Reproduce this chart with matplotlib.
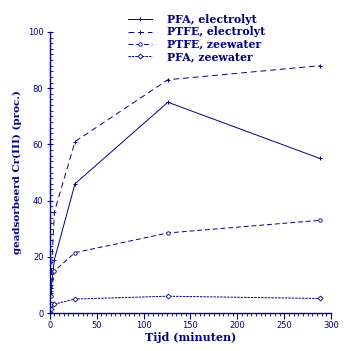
import matplotlib
matplotlib.use("Agg")
import matplotlib.pyplot as plt
from matplotlib.ticker import MultipleLocator

# Adsorption of Cr(III) versus time for two tube materials in two media
tijd = [0, 1, 5, 27, 126, 288]
pfa_electrolyt = [0, 7, 19, 46, 75, 55]
ptfe_electrolyt = [0, 9, 36, 61, 83, 88]
ptfe_zeewater = [0, 6, 15, 21.5, 28.5, 33]
pfa_zeewater = [0, 1.5, 3.2, 5, 6, 5.2]

navy = "#000080"

fig = plt.figure(figsize=(3.5, 3.51), dpi=100)
ax = fig.add_axes([0.142, 0.108, 0.804, 0.801])

ax.plot(tijd, pfa_electrolyt, color=navy, lw=0.7, ls="-",
        marker="+", ms=3, mew=0.7, label="PFA, electrolyt")
ax.plot(tijd, ptfe_electrolyt, color=navy, lw=0.7, ls=(0, (6, 4)),
        marker="+", ms=3, mew=0.7, label="PTFE, electrolyt")
ax.plot(tijd, ptfe_zeewater, color=navy, lw=0.7, ls=(0, (5, 3)),
        marker="o", ms=2.5, mew=0.6, mfc="white", label="PTFE, zeewater")
ax.plot(tijd, pfa_zeewater, color=navy, lw=0.7, ls=(0, (2.5, 1)),
        marker="D", ms=2.5, mew=0.6, mfc="white", label="PFA, zeewater")

ax.set_xlim(0, 300)
ax.set_ylim(0, 100)
ax.xaxis.set_major_locator(MultipleLocator(50))
ax.xaxis.set_minor_locator(MultipleLocator(5))
ax.yaxis.set_major_locator(MultipleLocator(20))
ax.yaxis.set_minor_locator(MultipleLocator(2))

for side in ("top", "right"):
    ax.spines[side].set_visible(False)
for side in ("left", "bottom"):
    ax.spines[side].set_color(navy)
    ax.spines[side].set_linewidth(1.0)

ax.tick_params(axis="x", which="major", direction="out", length=4, color=navy,
               labelcolor=navy, labelsize=6, pad=2)
ax.tick_params(axis="x", which="minor", direction="out", length=2.5, color=navy)
ax.tick_params(axis="y", which="major", direction="inout", length=5, color=navy,
               labelcolor=navy, labelsize=6, pad=2)
ax.tick_params(axis="y", which="minor", direction="in", length=2.5, color=navy)

ax.set_xlabel("Tijd (minuten)", color=navy, family="DejaVu Serif",
              fontweight="bold", fontsize=8, labelpad=1)
ax.set_ylabel("geadsorbeerd Cr(III) (proc.)", color=navy, family="DejaVu Serif",
              fontweight="bold", fontsize=7.5, labelpad=4)

leg = ax.legend(loc="upper left", bbox_to_anchor=(128 / 350, 1 - 14 / 351),
                bbox_transform=fig.transFigure, frameon=False,
                prop={"family": "DejaVu Serif", "weight": "bold", "size": 7.8},
                handlelength=2.2, handletextpad=1.4, labelspacing=0.12,
                borderpad=0, borderaxespad=0)
for t in leg.get_texts():
    t.set_color(navy)

fig.savefig("out.png", dpi=100)
